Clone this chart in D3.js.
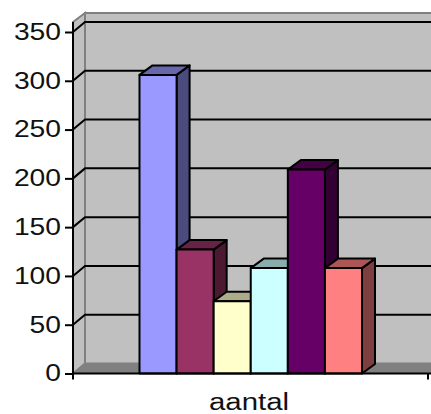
<!DOCTYPE html>
<html>
  <head>
    <meta charset="utf-8">
    <title>aantal</title>
    <style>
      html, body { margin: 0; padding: 0; background: #fff; }
      svg { display: block; }
      text { font-family: "Liberation Sans", Arial, sans-serif; fill: #111; }
    </style>
  </head>
  <body>
    <div id="chart"></div>
    <script src="https://cdn.jsdelivr.net/npm/d3@7"></script>
    <script>
    var categories = ['aantal'];
    var seriesNames = ['a', 'b', 'c', 'd', 'e', 'f'];
    var seriesValues = [306, 127, 74, 108, 209, 108];
    var seriesColors = ['#9999ff', '#993366', '#ffffcc', '#ccffff', '#660066', '#ff8080'];
    var tickValues = [0, 50, 100, 150, 200, 250, 300, 350];

    var W = 431, H = 414;
    var X0 = 73, X1 = 428, Y0 = 373.5, Y350 = 32;
    var DX = 12, DY = -10;      // wall depth
    var BDX = 13, BDY = -9.5;   // bar depth
    var CHAR_W = 15.7;          // the labels are drawn wider than the font's own width

    var y = d3.scaleLinear().domain([0, 350]).range([Y0, Y350]);
    var xCat = d3.scaleBand().domain(categories).range([X0, X1]);
    var xBar = d3.scaleBand().domain(seriesNames).range([139.5, 362]);

    var svg = d3.select('#chart').append('svg').attr('width', W).attr('height', H);

    // walls
    var topY = y(350) + DY;
    svg.append('polygon')
       .attr('points', [[X0 + DX, topY - 9], [W + 5, topY - 9], [W + 5, Y0 + DY], [X0 + DX, Y0 + DY]].join(' '))
       .attr('fill', '#c0c0c0').attr('stroke', '#808080').attr('stroke-width', 2);
    svg.append('polygon')
       .attr('points', [[X0, y(350) - 10], [X0 + DX, topY - 9], [X0 + DX, Y0 + DY], [X0, Y0]].join(' '))
       .attr('fill', '#c0c0c0').attr('stroke', '#808080').attr('stroke-width', 2);
    svg.append('polygon')
       .attr('points', [[X0, Y0], [X0 + DX, Y0 + DY], [W + 5, Y0 + DY], [W + 5, Y0]].join(' '))
       .attr('fill', '#808080');

    // gridlines
    var grid = svg.append('g').attr('fill', 'none').attr('stroke', '#000').attr('stroke-width', 2);
    grid.selectAll('path')
        .data(tickValues.filter(function(d){ return d > 0; }))
        .enter()
        .append('path')
        .attr('d', function(d){
            return 'M' + X0 + ',' + y(d) + 'L' + (X0 + DX) + ',' + (y(d) + DY) + 'L' + (W + 5) + ',' + (y(d) + DY);
        });

    // bars, painted left to right so each one hides the side of the last
    var bars = svg.selectAll('g.bar')
        .data(seriesValues)
        .enter()
        .append('g')
        .attr('class', 'bar')
        .attr('stroke', '#000')
        .attr('stroke-width', 2)
        .attr('stroke-linejoin', 'round');

    var barX = function(i){ return xBar(seriesNames[i]); };

    bars.append('polygon')
        .attr('fill', function(d, i){ return d3.rgb(seriesColors[i]).darker(2); })
        .attr('points', function(d, i){
            var r = barX(i) + xBar.bandwidth();
            return [[r, y(d)], [r + BDX, y(d) + BDY], [r + BDX, Y0 + BDY], [r, Y0]].join(' ');
        });
    bars.append('polygon')
        .attr('fill', function(d, i){ return d3.rgb(seriesColors[i]).darker(1.1); })
        .attr('points', function(d, i){
            var l = barX(i), r = l + xBar.bandwidth();
            return [[l, y(d)], [l + BDX, y(d) + BDY], [r + BDX, y(d) + BDY], [r, y(d)]].join(' ');
        });
    bars.append('rect')
        .attr('fill', function(d, i){ return seriesColors[i]; })
        .attr('x', function(d, i){ return barX(i); })
        .attr('y', function(d){ return y(d); })
        .attr('width', xBar.bandwidth())
        .attr('height', function(d){ return Y0 - y(d); });

    // value axis
    var yAxis = svg.append('g')
        .attr('transform', 'translate(' + X0 + ',0)')
        .call(d3.axisLeft(y).tickValues(tickValues).tickSize(8).tickPadding(4).tickFormat(d3.format('d')));
    yAxis.select('.domain').remove();
    yAxis.selectAll('line').attr('stroke', '#000').attr('stroke-width', 2);
    yAxis.selectAll('text')
         .attr('font-size', 23)
         .style('font-family', '"Liberation Sans", Arial, sans-serif')
         .attr('fill', '#111')
         .attr('lengthAdjust', 'spacingAndGlyphs')
         .attr('textLength', function(d){ return String(d).length * CHAR_W; });
    svg.append('line')
       .attr('x1', X0).attr('x2', X0)
       .attr('y1', y(350) - 10).attr('y2', Y0 + 6)
       .attr('stroke', '#000').attr('stroke-width', 2);

    // category axis
    svg.append('line')
       .attr('x1', X0).attr('x2', X1 + 3)
       .attr('y1', Y0).attr('y2', Y0)
       .attr('stroke', '#000').attr('stroke-width', 2);
    svg.append('line')
       .attr('x1', X1).attr('x2', X1)
       .attr('y1', Y0).attr('y2', Y0 + 6)
       .attr('stroke', '#000').attr('stroke-width', 2);
    svg.selectAll('text.cat')
       .data(categories)
       .enter()
       .append('text')
       .attr('class', 'cat')
       .attr('x', function(d){ return xCat(d) + xCat.bandwidth() / 2 - 1.5; })
       .attr('y', 410)
       .attr('text-anchor', 'middle')
       .attr('font-size', 23)
       .attr('lengthAdjust', 'spacingAndGlyphs')
       .attr('textLength', 80)
       .text(function(d){ return d; });
    </script>
  </body>
</html>
